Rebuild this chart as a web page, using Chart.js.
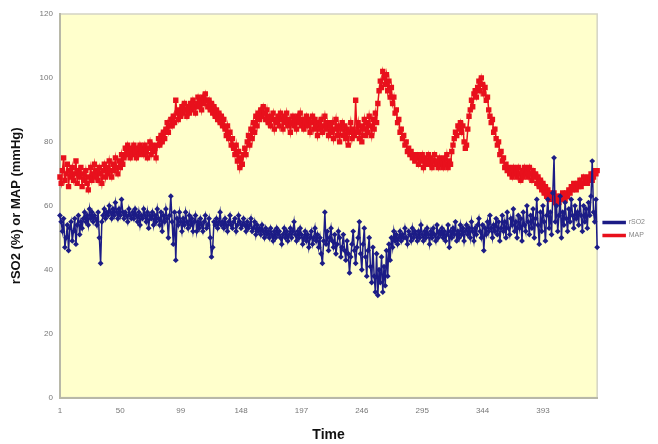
<!DOCTYPE html>
<html>
<head>
<meta charset="utf-8">
<script src="https://cdn.jsdelivr.net/npm/chart.js@4/dist/chart.umd.min.js"></script>
<style>
html,body{margin:0;padding:0;background:#fff;}
canvas{display:block;}
</style>
</head>
<body>
<canvas id="c" width="658" height="444"></canvas>
<script>
const N_POINTS = 437;
const timeLabels = Array.from({length: N_POINTS}, (_, i) => String(i + 1));
const tickLabels = ['1','50','99','148','197','246','295','344','393'];

const rso2 = [
57,55,52,56,47,50,54,46,53,55,
49,52,56,48,54,57,51,55,53,56,
58,55,57,54,59,56,58,55,57,56,
54,58,50,42,55,57,59,56,58,57,
60,58,56,59,57,61,58,56,59,57,
62,58,56,58,57,55,59,57,56,58,
56,59,57,55,58,54,57,56,59,57,
55,58,53,57,56,58,54,57,55,59,
56,54,58,52,57,55,59,56,50,57,
63,55,48,58,43,56,54,58,55,52,
56,54,58,55,53,57,54,56,52,55,
57,52,55,53,56,54,52,55,57,53,
54,56,50,44,47,55,54,56,53,55,
58,54,55,53,56,54,52,55,57,54,
53,55,56,52,54,57,55,53,54,56,
54,52,55,53,54,56,52,53,55,51,
54,52,53,51,54,52,50,53,51,52,
50,53,51,49,52,50,53,51,52,50,
48,51,53,50,52,49,51,53,50,52,
55,51,49,52,50,53,51,48,50,52,
49,51,47,50,52,48,50,53,49,51,
47,50,45,42,49,58,48,52,46,50,
53,49,47,51,45,48,52,50,44,47,
51,46,43,49,45,39,44,48,52,46,
42,47,50,55,45,40,48,53,44,38,
46,50,41,36,47,38,33,45,32,40,
36,44,33,41,35,46,38,48,43,50,
47,52,49,51,48,50,52,49,51,50,
53,50,48,52,51,49,53,50,52,51,
49,52,50,54,51,49,52,50,53,51,
48,52,50,53,51,49,54,50,52,51,
53,50,52,49,51,54,47,52,50,53,
51,55,49,52,50,54,51,53,49,52,
54,51,53,50,55,52,49,53,51,54,
56,52,50,54,46,53,51,55,52,57,
53,50,54,52,56,51,55,49,53,57,
52,55,50,58,53,51,56,54,59,52,
55,50,57,53,56,49,58,54,52,60,
55,51,57,53,59,50,56,62,54,48,
58,52,60,55,49,57,62,53,58,51,
64,75,55,60,52,57,63,50,58,54,
61,56,52,59,55,62,57,53,60,56,
58,54,62,57,52,60,55,59,53,61,
57,63,74,58,55,62,47
];

const map = [
69,67,71,75,68,70,73,66,71,69,
72,68,70,74,67,71,69,72,66,70,
68,71,67,65,69,72,68,70,73,69,
71,68,72,70,67,71,73,69,72,70,
74,71,69,73,71,75,72,70,74,72,
76,73,75,78,76,79,77,75,78,76,
79,77,75,78,76,79,77,78,76,79,
77,75,78,80,76,79,77,78,75,79,
81,79,82,80,83,81,84,86,83,85,
87,85,88,86,93,89,87,90,88,91,
89,92,90,88,91,89,92,90,93,91,
89,92,94,91,93,90,94,92,95,93,
91,93,90,92,89,91,88,90,87,89,
86,88,85,87,84,82,85,81,83,79,
81,78,76,79,74,77,72,75,73,76,
78,76,80,82,79,84,81,86,83,88,
85,89,87,90,88,91,89,87,90,86,
88,85,87,89,84,87,86,88,85,89,
87,84,88,86,89,85,87,83,86,88,
85,87,84,88,86,89,85,87,84,86,
88,85,87,83,86,88,84,87,85,82,
86,84,87,83,85,88,84,86,82,85,
83,86,81,84,87,82,85,80,84,86,
82,85,81,84,79,83,86,81,84,82,
93,83,86,81,85,80,84,87,82,86,
83,88,85,82,87,84,89,86,92,96,
99,97,102,100,98,101,96,99,94,97,
92,94,89,90,86,87,83,84,81,82,
79,80,77,78,76,77,75,76,74,75,
76,73,75,74,76,72,75,73,74,76,
73,75,72,74,76,73,74,72,75,73,
74,72,75,73,76,72,74,73,77,79,
81,83,82,85,84,86,83,85,80,78,
79,84,88,90,93,91,95,96,94,97,
99,96,100,98,95,97,93,94,90,88,
86,87,83,84,81,79,80,76,77,74,
75,72,73,71,72,70,71,69,72,70,
71,69,72,70,68,71,69,72,70,71,
69,72,70,68,71,69,70,67,69,66,
68,65,67,64,66,63,65,62,64,63,
62,64,61,63,62,61,63,62,64,63,
62,64,63,65,64,66,65,67,66,65,
67,66,68,66,67,69,67,68,67,69,
68,70,68,69,71,70,71
];

const plotBg = {
  id: 'plotBg',
  beforeDraw(chart) {
    const {ctx, chartArea: a} = chart;
    ctx.save();
    ctx.fillStyle = '#FFFFCC';
    ctx.fillRect(a.left, a.top, a.right - a.left, a.bottom - a.top);
    ctx.strokeStyle = '#D4D4C4';
    ctx.lineWidth = 1.5;
    ctx.strokeRect(a.left, a.top, a.right - a.left, a.bottom - a.top);
    ctx.restore();
  }
};

new Chart(document.getElementById('c'), {
  type: 'line',
  data: {
    labels: timeLabels,
    datasets: [
      {
        label: 'rSO2',
        data: rso2,
        borderColor: '#1C1C86',
        backgroundColor: '#1C1C86',
        borderWidth: 1.5,
        pointStyle: 'rectRot',
        pointRadius: 2.9,
        pointBorderWidth: 0,
        tension: 0
      },
      {
        label: 'MAP',
        data: map,
        borderColor: '#E8101C',
        backgroundColor: '#E8101C',
        borderWidth: 1.5,
        pointStyle: 'rect',
        pointRadius: 3.8,
        pointBorderWidth: 0,
        tension: 0
      }
    ]
  },
  options: {
    responsive: false,
    animation: false,
    layout: { padding: { left: 9, right: 3, top: 14, bottom: 0 } },
    plugins: {
      legend: {
        position: 'right',
        labels: {
          boxWidth: 22,
          boxHeight: 2,
          padding: 6,
          color: '#888',
          font: { family: 'Liberation Sans, Arial, sans-serif', size: 7 }
        }
      },
      tooltip: { enabled: false }
    },
    scales: {
      x: {
        type: 'category',
        offset: false,
        grid: { display: false, drawTicks: false },
        border: { display: true, color: '#B8B8A8', width: 2 },
        ticks: {
          autoSkip: false,
          maxRotation: 0,
          minRotation: 0,
          padding: 8,
          color: '#777',
          font: { family: 'Liberation Sans, Arial, sans-serif', size: 8 },
          callback: function(value) {
            const lab = this.getLabelForValue(value);
            return tickLabels.includes(lab) ? lab : null;
          }
        },
        title: {
          display: true,
          text: 'Time',
          color: '#111',
          padding: { top: 4, bottom: 0 },
          font: { family: 'Liberation Sans, Arial, sans-serif', size: 14, weight: 'bold' }
        }
      },
      y: {
        min: 0,
        max: 120,
        grid: { display: false, drawTicks: false },
        border: { display: true, color: '#B8B8A8', width: 2 },
        ticks: {
          stepSize: 20,
          padding: 7,
          color: '#777',
          font: { family: 'Liberation Sans, Arial, sans-serif', size: 8 }
        },
        title: {
          display: true,
          text: 'rSO2 (%) or MAP (mmHg)',
          color: '#111',
          padding: { top: 0, bottom: 8 },
          font: { family: 'Liberation Sans, Arial, sans-serif', size: 13, weight: 'bold' }
        }
      }
    }
  },
  plugins: [plotBg]
});
</script>
</body>
</html>
